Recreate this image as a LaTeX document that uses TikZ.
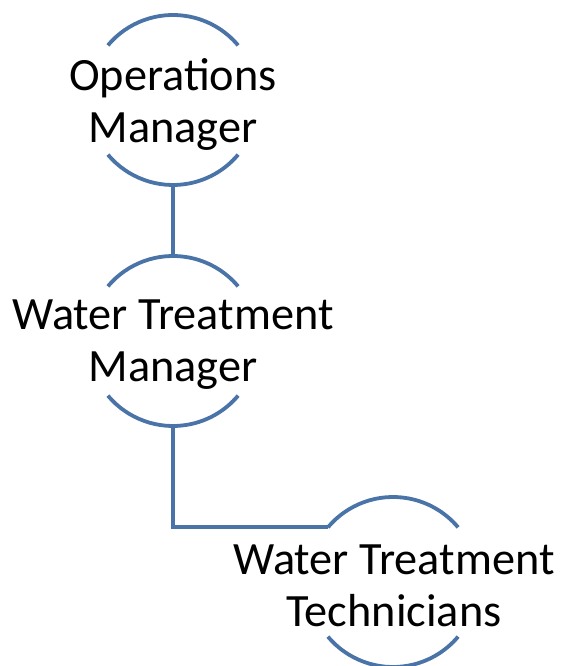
\documentclass[tikz,border=0pt]{standalone}
\usepackage{fontspec}
\setmainfont{Carlito}
\usetikzlibrary{calc}
\definecolor{linkblue}{HTML}{4A74A8}
\tikzset{
  x=1pt, y=1pt,
  ring/.style={draw=linkblue, line width=3.8pt},
  link/.style={draw=linkblue, line width=3.8pt, line join=miter},
  label/.style={align=center, inner sep=0pt, font=\fontsize{46.3}{52}\selectfont, text=black}
}
\begin{document}
\begin{tikzpicture}
\useasboundingbox (0,0) rectangle (561,666);
\coordinate (c1) at (173,566);
\coordinate (c2) at (173,325);
\coordinate (c3) at (393,84);
\def\rr{85}
% rings
\foreach \c in {c1,c2,c3}{
  \draw[ring] ($(\c)+(140:\rr)$) arc[start angle=140, end angle=40, radius=\rr];
  \draw[ring] ($(\c)+(220:\rr)$) arc[start angle=220, end angle=320, radius=\rr];
}
% labels
\node[label] (om) at ($(c1)+(0,-4)$) {Operations\\Manager};
\node[label] (wtm) at ($(c2)+(0,-4)$) {Water Treatment\\Manager};
\node[label] (wtt) at ($(c3)+(1,-4)$) {Water Treatment\\Technicians};
% connector anchor points
\coordinate (om-b) at ($(c1)+(0,-\rr)$);
\coordinate (wtm-t) at ($(c2)+(0,\rr)$);
\coordinate (wtm-b) at ($(c2)+(0,-\rr)$);
\coordinate (wtt-l) at ($(c3)+(140:\rr)$);
\coordinate (bend) at (wtm-b |- wtt-l);
\draw[link] (om-b) -- (wtm-t);
\draw[link] (wtm-b) -- (bend) -- (wtt-l);
\end{tikzpicture}
\end{document}
